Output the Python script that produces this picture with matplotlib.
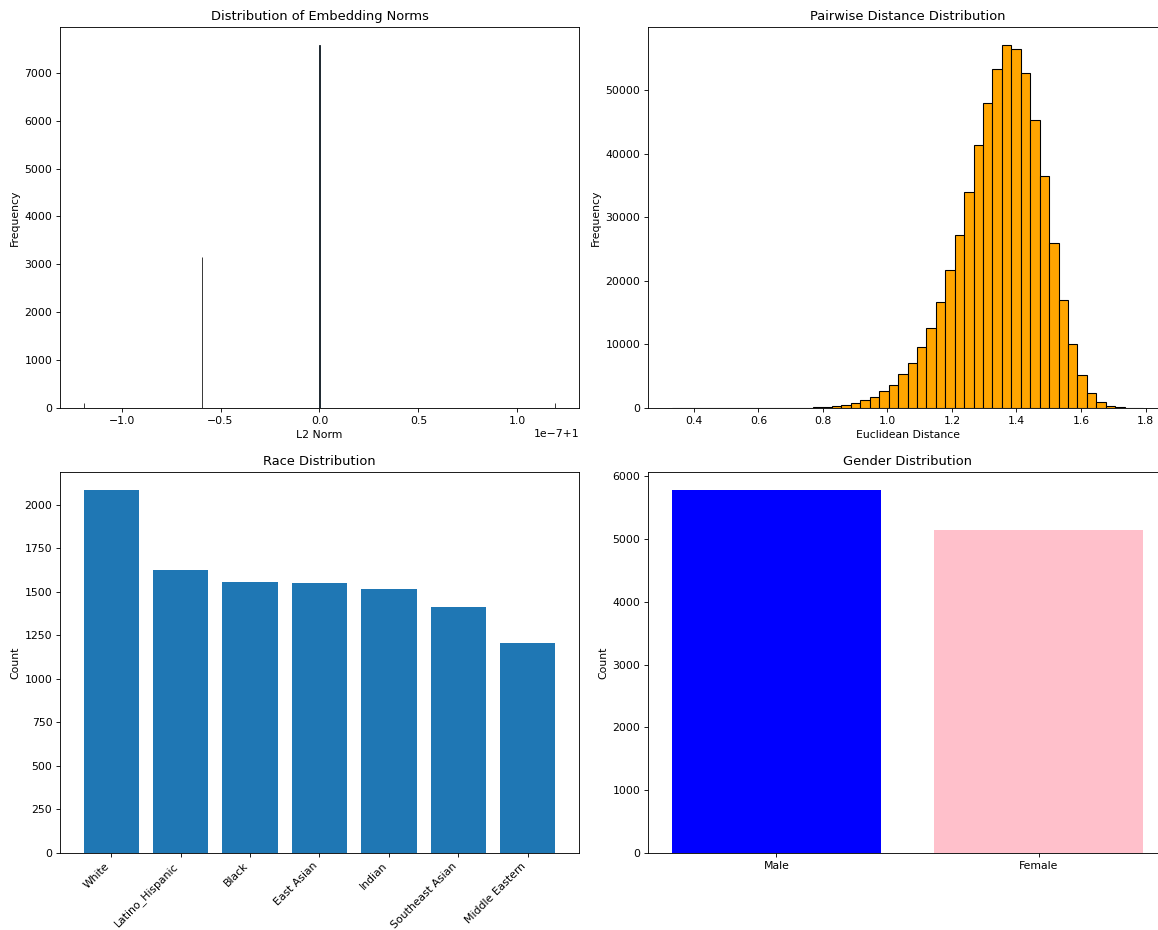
import numpy as np
import matplotlib
matplotlib.use("Agg")
import matplotlib.pyplot as plt

# L2 norms of the embeddings (float32 values around 1.0) and how many hit each
norm_values = [1 - 2**-23, 1 - 2**-24, 1.0, 1 + 2**-23]
norm_counts = [110, 3155, 7580, 105]

# pairwise euclidean distances, 50 bins
dist_start = 0.331
dist_width = 0.02925
dist_counts = [1, 0, 0, 0, 1, 0, 1, 2, 2, 4, 6, 10, 18, 30,
               55, 120, 160, 315, 525, 840, 1210, 1800, 2675, 3640,
               5320, 7140, 9580, 12630, 16670, 21650, 27250, 33910, 41350,
               48010, 53400, 57100, 56450, 52780, 45280, 36430, 25890,
               16930, 10120, 5170, 2330, 900, 320, 100, 20, 3]

races = ["White", "Latino_Hispanic", "Black", "East Asian", "Indian",
         "Southeast Asian", "Middle Eastern"]
race_counts = [2084, 1623, 1555, 1548, 1516, 1414, 1208]

genders = ["Male", "Female"]
gender_counts = [5782, 5150]
gender_colors = ["blue", "pink"]

dpi = 78
fig, axes = plt.subplots(2, 2, figsize=(1158 / dpi, 930 / dpi), dpi=dpi)
fig.subplots_adjust(left=0.0518, right=1.0078, bottom=0.0828, top=0.971,
                    wspace=0.133, hspace=0.168)

# norms
ax = axes[0, 0]
ax.hist(norm_values, bins=2000, weights=norm_counts, edgecolor="black", linewidth=0.7)
ax.set_title("Distribution of Embedding Norms")
ax.set_xlabel("L2 Norm")
ax.set_ylabel("Frequency")

# pairwise distances
ax = axes[0, 1]
edges = dist_start + dist_width * np.arange(len(dist_counts) + 1)
centers = (edges[:-1] + edges[1:]) / 2
ax.hist(centers, bins=edges, weights=dist_counts, color="orange", edgecolor="black")
ax.set_title("Pairwise Distance Distribution")
ax.set_xlabel("Euclidean Distance")
ax.set_ylabel("Frequency")

# race counts
ax = axes[1, 0]
ax.bar(races, race_counts)
ax.set_title("Race Distribution")
ax.set_ylabel("Count")
plt.setp(ax.get_xticklabels(), rotation=45, ha="right")

# gender counts
ax = axes[1, 1]
ax.bar(genders, gender_counts, color=gender_colors)
ax.set_title("Gender Distribution")
ax.set_ylabel("Count")

fig.savefig("out.png", dpi=dpi)
